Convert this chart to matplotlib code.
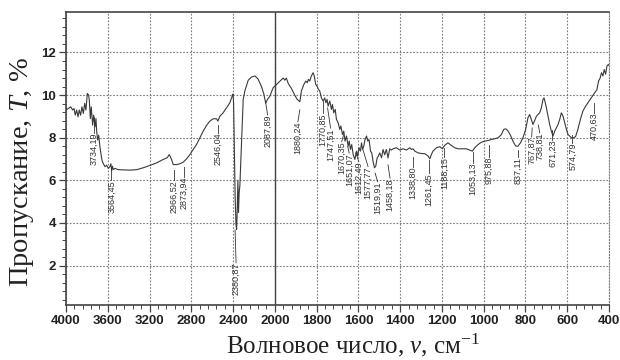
import numpy as np
import matplotlib
matplotlib.use("Agg")
import matplotlib.pyplot as plt
from matplotlib.ticker import FixedLocator

plt.rcParams["mathtext.fontset"] = "custom"
plt.rcParams["mathtext.rm"] = "Liberation Serif"
plt.rcParams["mathtext.it"] = "Liberation Serif:italic"

# ИК-спектр: волновое число (см-1) и пропускание (%)
wn = [4000, 3978, 3955, 3936, 3923, 3911, 3898, 3885, 3873, 3860, 3847, 3834, 3821, 3809,
      3796, 3783, 3777, 3767, 3758, 3745, 3735, 3722, 3713, 3706, 3697, 3687, 3675, 3665,
      3656, 3643, 3627, 3611, 3595, 3579, 3570, 3563, 3555, 3547, 3530, 3500, 3452, 3388,
      3324, 3260, 3196, 3132, 3069, 3031, 3011, 2989, 2973, 2941, 2909, 2878, 2845, 2813,
      2782, 2750, 2718, 2686, 2654, 2622, 2590, 2558, 2546, 2526, 2495, 2462, 2431, 2409,
      2400, 2395, 2388, 2380, 2372, 2366, 2360, 2354, 2348, 2342, 2335, 2319, 2303, 2287,
      2255, 2223, 2191, 2160, 2128, 2105, 2088, 2070, 2048, 2016, 1992, 1976, 1960, 1952,
      1945, 1936, 1920, 1905, 1893, 1880, 1873, 1861, 1852, 1845, 1839, 1833, 1825, 1817,
      1812, 1804, 1798, 1791, 1785, 1777, 1769, 1761, 1756, 1750, 1745, 1737, 1729, 1724,
      1718, 1711, 1705, 1697, 1689, 1684, 1676, 1670, 1664, 1657, 1649, 1644, 1638, 1632,
      1625, 1617, 1609, 1603, 1597, 1590, 1585, 1580, 1574, 1568, 1561, 1555, 1549, 1542,
      1536, 1530, 1523, 1517, 1510, 1504, 1498, 1489, 1482, 1474, 1466, 1458, 1450, 1442,
      1434, 1418, 1402, 1386, 1370, 1354, 1346, 1338, 1330, 1314, 1298, 1282, 1266, 1258,
      1250, 1243, 1226, 1210, 1198, 1187, 1171, 1155, 1139, 1123, 1107, 1083, 1067, 1054,
      1043, 1027, 1011, 995, 979, 963, 947, 931, 915, 904, 894, 883, 871, 860, 847, 836,
      824, 812, 799, 788, 780, 772, 764, 757, 748, 740, 732, 724, 716, 711, 703, 692, 684,
      676, 668, 660, 652, 644, 636, 628, 620, 612, 604, 596, 580, 569, 560, 549, 537, 525,
      512, 501, 485, 469, 458, 450, 442, 436, 429, 423, 416, 410, 403, 400]
trans = [9.30, 9.37, 9.45, 9.30, 9.37, 9.06, 9.30, 8.98, 9.30, 9.06, 9.45, 9.14, 9.61, 9.30,
         10.08, 10.0, 9.77, 8.90, 9.45, 8.59, 9.06, 8.51, 8.90, 8.28, 7.89, 8.12, 7.57, 7.26,
         6.95, 6.79, 6.64, 6.71, 6.56, 6.65, 6.78, 6.45, 6.66, 6.51, 6.56, 6.50, 6.49, 6.48,
         6.50, 6.59, 6.70, 6.82, 6.98, 7.06, 7.21, 6.98, 6.74, 6.74, 6.78, 6.85, 7.01, 7.21,
         7.45, 7.68, 7.99, 8.31, 8.58, 8.78, 8.89, 8.89, 8.78, 9.01, 9.17, 9.41, 9.64, 9.95,
         10.05, 9.6, 7.5, 5.2, 3.9, 3.7, 4.7, 6.0, 4.5, 5.4, 5.75, 7.8, 9.8, 10.2,
         10.7, 10.85, 10.9, 10.75, 10.4, 10.05, 9.62, 9.8, 9.95, 10.35, 10.5, 10.65, 10.8, 10.7,
         10.8, 10.55, 10.3, 10.0, 9.8, 9.69, 10.19, 10.5, 10.66, 10.58, 10.74, 10.66, 10.9, 11.05,
         10.92, 10.5, 10.42, 10.27, 10.19, 9.87, 9.72, 9.87, 9.64, 9.8, 9.48, 9.72, 9.33, 9.56,
         9.17, 9.33, 8.86, 8.70, 8.39, 8.55, 8.15, 8.31, 7.84, 8.08, 7.60, 7.84, 7.45, 7.68,
         7.21, 6.98, 7.37, 7.14, 7.53, 7.37, 7.76, 7.45, 7.61, 7.92, 8.08, 7.84, 7.92, 7.37,
         7.29, 6.9, 6.59, 6.66, 7.06, 7.14, 7.29, 7.06, 7.45, 7.2, 7.45, 7.05, 7.48, 7.42,
         7.48, 7.53, 7.42, 7.48, 7.42, 7.53, 7.45, 7.48, 7.37, 7.29, 7.26, 7.25, 7.14, 7.01,
         7.22, 7.37, 7.53, 7.58, 7.48, 7.64, 7.76, 7.64, 7.53, 7.48, 7.48, 7.48, 7.42, 7.37,
         7.53, 7.68, 7.79, 7.84, 7.87, 7.92, 7.95, 8.0, 8.15, 8.39, 8.42, 8.31, 8.1, 7.84, 7.61, 7.6,
         7.76, 8.0, 8.39, 8.94, 9.09, 8.86, 8.62, 8.78, 9.0, 9.09, 9.17, 9.4, 9.8, 9.87, 9.56, 9.01, 8.62,
         8.31, 8.08, 8.31, 8.47, 8.62, 8.86, 9.17, 9.01, 8.7, 8.39, 8.15, 8.0, 8.0, 8.05, 8.39, 8.86, 9.25,
         9.48, 9.64, 9.87, 10.1, 10.25, 10.66, 10.81, 11.05, 10.9, 11.2, 10.98, 11.36, 11.44, 11.4]

# подписи пиков
peak_wn = [3734.19, 3564.45, 2966.52, 2873.94, 2546.04, 2380.87, 2087.89, 1880.24,
           1770.85, 1747.51, 1670.35, 1651.07, 1612.49, 1577.77, 1519.91, 1458.18,
           1338.80, 1261.45, 1188.15, 1053.13, 975.88, 837.11, 767.87, 738.81,
           671.23, 574.79, 470.63]
# начало выноски, верх текста подписи (в единицах пропускания), сдвиг текста (px)
lead_top = [8.98, 6.59, 6.49, 6.63, 8.6, 3.68, 9.64, 9.31, 9.7, 9.4, 8.14, 7.59, 7.29, 7.43,
            6.34, 6.73, 7.1, 6.96, 7.53, 7.34, 7.67, 7.43, 8.46, 8.6, 8.37, 8.14, 9.64]
text_top = [8.23, 6.02, 6.02, 6.16, 8.23, 2.13, 9.07, 8.75, 9.15, 8.45, 7.82, 7.28, 6.88, 6.65,
            5.94, 6.1, 6.63, 6.35, 7.1, 6.82, 7.1, 7.1, 8.04, 8.23, 7.9, 7.76, 9.17]
text_dx = [0, 0, 0, 0, 0, 1, 2, -2, 0, 3, -2, 1.5, 3, 5, 2.5, 2, 0, 0, 0, 0, 0, 0, -0.5, 1.5,
           0, 0, 0]

major_ticks = [4000, 3600, 3200, 2800, 2400, 2000, 1800, 1600, 1400, 1200, 1000, 800, 600, 400]


def fwd(x):
    # 4000-2000: 400 на деление, 2000-400: 200 на деление
    x = np.asarray(x, dtype=float)
    return np.where(x >= 2000, (x - 4000) / 400, -5 - (2000 - x) / 200)


def inv(u):
    u = np.asarray(u, dtype=float)
    return np.where(u >= -5, 4000 + 400 * u, 2000 + 200 * (u + 5))


fig = plt.figure(figsize=(6.2, 3.6), dpi=100)
ax = fig.add_axes([66 / 620, 55 / 360, 543 / 620, 293 / 360])
ax.set_xscale("function", functions=(fwd, inv))
ax.set_xlim(4000, 400)
ax.set_ylim(0.15, 13.9)

ax.xaxis.set_major_locator(FixedLocator(major_ticks))
minor_x = list(np.arange(4000, 2000, -80)) + list(np.arange(2000, 399, -40))
ax.xaxis.set_minor_locator(FixedLocator(minor_x))
ax.yaxis.set_major_locator(FixedLocator([2, 4, 6, 8, 10, 12]))
ax.yaxis.set_minor_locator(FixedLocator(np.arange(0.4, 13.8, 0.4)))
ax.xaxis.set_major_formatter(plt.FuncFormatter(lambda v, p: f"{v:.0f}"))

ax.grid(True, which="major", ls=(0, (1.5, 1.5)), color="#7a7a7a", lw=0.8)
ax.axvline(2000, color="#444444", lw=1.0, zorder=2)

ax.plot(wn, trans, color="#3a3a3a", lw=0.8, zorder=3)

for w, lt, tt, dx in zip(peak_wn, lead_top, text_top, text_dx):
    px, py = ax.transData.transform((w, tt))
    wt = ax.transData.inverted().transform((px + dx, py))[0]
    ax.plot([w, wt], [lt, tt], color="#333333", lw=0.6, zorder=4)
    ax.text(wt, tt, f"{w:.2f}".replace(".", ","), rotation=90, ha="center", va="top",
            fontsize=6.5, family="Liberation Sans", color="#333333", zorder=5)

for s in ["left", "bottom", "top"]:
    ax.spines[s].set_color("#444444")
    ax.spines[s].set_linewidth(1.2)
ax.spines["right"].set_linestyle(":")
ax.spines["right"].set_color("#777777")

ax.tick_params(which="major", direction="out", length=5, width=0.9, color="#444444",
               labelsize=9.5, labelcolor="#222222", pad=2)
ax.tick_params(which="minor", direction="out", length=3, width=0.7, color="#444444")
for lab in ax.get_xticklabels() + ax.get_yticklabels():
    lab.set_fontweight("bold")
    lab.set_family("Liberation Sans")

ax.set_xlabel("Волновое число, $\\nu$, см$^{-1}$", family="Liberation Serif",
              fontsize=18, color="#222222")
ax.xaxis.set_label_coords(0.528, -0.09)
ax.set_ylabel("Пропускание, $T$, %", family="Liberation Serif",
              fontsize=20.5, color="#222222")
ax.yaxis.set_label_coords(-0.055, 0.454)

fig.savefig("out.png", dpi=100)
